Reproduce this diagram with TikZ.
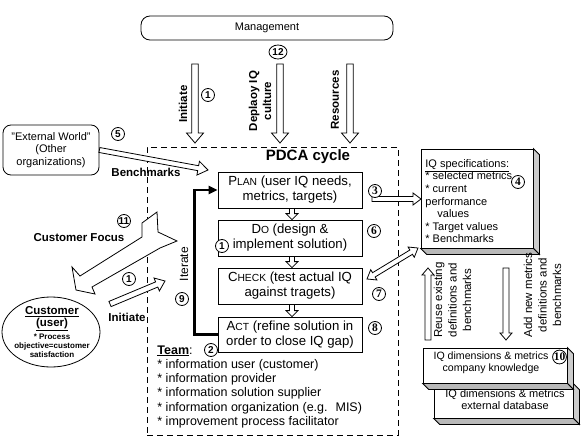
\documentclass[tikz,border=0pt]{standalone}
\usepackage{fontspec}
\setmainfont{Liberation Sans}
\newfontfamily\serifnum{Liberation Serif}
\usetikzlibrary{calc,shapes.geometric,arrows.meta}
\newcommand\kapit[1]{{\fontsize{10.3}{10}\selectfont #1}}
% hollow block arrow: tail, tip, shaft half width, head half width, head length
\newcommand\blockarrow[5]{%
 \filldraw[arrowbody] ($(#1)!#3!90:(#2)$)
  -- ($(#2)!#5!(#1)!#3!90:(#2)$)
  -- ($(#2)!#5!(#1)!#4!90:(#2)$)
  -- (#2)
  -- ($(#2)!#5!(#1)!#4!-90:(#2)$)
  -- ($(#2)!#5!(#1)!#3!-90:(#2)$)
  -- ($(#1)!#3!-90:(#2)$) -- cycle;}
\newcommand\dblockarrow[5]{%
 \filldraw[arrowbody] (#1)
  -- ($(#1)!#5!(#2)!#4!90:(#2)$)
  -- ($(#1)!#5!(#2)!#3!90:(#2)$)
  -- ($(#2)!#5!(#1)!#3!90:(#2)$)
  -- ($(#2)!#5!(#1)!#4!90:(#2)$)
  -- (#2)
  -- ($(#2)!#5!(#1)!#4!-90:(#2)$)
  -- ($(#2)!#5!(#1)!#3!-90:(#2)$)
  -- ($(#1)!#5!(#2)!#3!-90:(#2)$)
  -- ($(#1)!#5!(#2)!#4!-90:(#2)$) -- cycle;}
\newcommand\boxshade[1]{%
 \filldraw[fill=gray!40] (#1.north east) -- ++(6,6) -- ($(#1.south east)+(6,6)$) -- (#1.south east) -- cycle;
 \filldraw[fill=gray!55] (#1.south west) -- (#1.south east) -- ($(#1.south east)+(6,6)$) -- ($(#1.south west)+(6,6)$) -- cycle;}
\tikzset{
 every node/.style={font=\fontsize{11}{12.5}\selectfont, inner sep=0pt},
 num/.style={circle, draw, fill=white, minimum size=13pt, inner sep=0pt, font=\fontsize{10}{10}\selectfont\bfseries},
 snum/.style={num, font=\serifnum\fontsize{11.5}{11}\selectfont\bfseries},
 pdcabox/.style={draw, fill=white, minimum width=144pt, minimum height=36pt, align=center, font=\fontsize{13.2}{15}\selectfont},
 arrowbody/.style={draw=black, fill=white},
 blabel/.style={font=\fontsize{11.5}{14}\selectfont\bfseries},
 rlabel/.style={font=\fontsize{11.5}{14.5}\selectfont},
 box3d/.style={draw, fill=white},
}
\begin{document}
\begin{tikzpicture}[x=1pt,y=-1pt,line width=0.8pt]
\useasboundingbox (0,0) rectangle (584,439);
\fill[white] (0,0) rectangle (584,439);

% Management
\node[draw, rounded corners=9pt, minimum width=252pt, minimum height=24pt] (mgmt) at (267,28) {Management};

% top arrows
\coordinate (ia) at (195,64); \coordinate (ib) at (195,143);
\coordinate (da) at (280,64); \coordinate (db) at (280,143);
\coordinate (ra) at (350,64); \coordinate (rb) at (350,143);
\blockarrow{ia}{ib}{3.3pt}{8.5pt}{10pt}
\blockarrow{da}{db}{3.3pt}{8.5pt}{10pt}
\blockarrow{ra}{rb}{3.3pt}{8.5pt}{10pt}
\node[blabel, rotate=90] (lini) at (183,104) {Initiate};
\node[blabel, rotate=90, align=center] (ldep) at (260,101) {Deplaoy IQ\\culture};
\node[blabel, rotate=90] (lres) at (335,100) {Resources};

% PDCA frame
\node[draw, dash pattern=on 6pt off 4pt, minimum width=251pt, minimum height=288pt] (pdca) at (272.5,291) {};
\node[font=\fontsize{15}{15}\selectfont\bfseries] (ptitle) at (308,157) {PDCA cycle};

\node[pdcabox] (plan) at (290,190) {P\kapit{LAN} (user IQ needs,\\metrics, targets)};
\node[pdcabox] (do) at (290,238) {D\kapit{O} (design \&\\implement solution)};
\node[pdcabox] (check) at (290,286) {C\kapit{HECK} (test actual IQ\\against tragets)};
\node[pdcabox, minimum height=35pt] (act) at (290,334.5) {A\kapit{CT} (refine solution in\\order to close IQ gap)};

\coordinate (p1) at ($(plan.south)+(2,0)$); \coordinate (p2) at ($(do.north)+(2,0)$);
\coordinate (p3) at ($(do.south)+(2,0)$); \coordinate (p4) at ($(check.north)+(2,0)$);
\coordinate (p5) at ($(check.south)+(2,0)$); \coordinate (p6) at ($(act.north)+(2,0)$);
\blockarrow{p1}{p2}{2.5pt}{6pt}{6pt}
\blockarrow{p3}{p4}{2.5pt}{6pt}{6pt}
\blockarrow{p5}{p6}{2.5pt}{6pt}{6pt}

% Iterate
\draw[line width=2.5pt, -{Triangle[length=9pt,width=8pt]}] (act.west) -- ++(-23,0) |- (plan.west);
\node[rotate=90, font=\fontsize{12}{12}\selectfont] (liter) at (184,264) {Iterate};

% External world
\node[draw, rounded corners=8pt, minimum width=96pt, minimum height=50pt, align=center] (ext) at (51,150) {"External World"\\(Other\\organizations)};
\coordinate (bmh) at (208,170);
\blockarrow{ext.east}{bmh}{2.5pt}{7pt}{10pt}
\node[blabel] (lbm) at (146,172) {Benchmarks};

% Customer focus
\filldraw[arrowbody] (142,237) -- (142,223) -- (157,212) -- (158,232) -- (177,241) -- (160,248)
  -- (92,287) -- (95,294) -- (76,290) -- (72,267) -- (80,276) -- cycle;
\node[blabel] (lcf) at (79,238) {Customer Focus};

% Customer
\node[draw, ellipse, minimum width=98pt, minimum height=70pt] (cust) at (51,332) {};
\node[align=center, font=\fontsize{11.5}{12}\selectfont\bfseries] (custname) at (52,319) {\underline{Customer}\\\underline{(user)}};
\node[align=center, font=\fontsize{8}{9}\selectfont\bfseries] (custobj) at (52,346) {* Process\\objective=customer\\satisfaction};
\coordinate (cit) at (110,304); \coordinate (cih) at (165,281);
\blockarrow{cit}{cih}{2.8pt}{7pt}{9pt}
\node[blabel] (lci) at (127,317) {Initiate};

% Team
\node[anchor=north west, align=left, font=\fontsize{12.5}{14.3}\selectfont] (team) at (157,345) {\underline{\textbf{Team}}:\\* information user (customer)\\* information provider\\* information solution supplier\\* information organization (e.g.\hspace{8pt}MIS)\\* improvement process facilitator};

% IQ specifications
\node[box3d, minimum width=112pt, minimum height=99pt] (spec) at (477,198.5) {};
\boxshade{spec}
\node[anchor=north west, align=left, font=\fontsize{11}{12.6}\selectfont] (spectxt) at (425,159) {\underline{IQ specifications:}\\* selected metrics\\* current\\performance\\\hspace*{12pt}values\\* Target values\\* Benchmarks};

\coordinate (a3t) at (372,199); \coordinate (a3h) at (421,199);
\blockarrow{a3t}{a3h}{2.5pt}{6pt}{8pt}
\coordinate (a7a) at (367,279); \coordinate (a7b) at (418,248);
\dblockarrow{a7a}{a7b}{2.5pt}{6pt}{8pt}

% vertical arrows
\coordinate (ua) at (428,340); \coordinate (ub) at (428,268);
\coordinate (na) at (506,268); \coordinate (nb) at (506,340);
\blockarrow{ua}{ub}{3pt}{6pt}{7pt}
\blockarrow{na}{nb}{3pt}{6pt}{7pt}
\node[rlabel, rotate=90, align=center] (lreuse) at (452.5,300) {Reuse existing\\definitions and\\benchmarks};
\node[rlabel, rotate=90, align=center] (ladd) at (542.5,295) {Add new metrics\\definitions and\\benchmarks};

% knowledge boxes
\node[box3d, minimum width=139pt, minimum height=34pt] (extdb) at (503.5,401) {};
\boxshade{extdb}
\node[align=center] (extdbtxt) at (505,399.5) {IQ dimensions \& metrics\\external database};
\node[box3d, minimum width=144pt, minimum height=35pt] (comp) at (495,365.5) {};
\boxshade{comp}
\node[align=center, font=\fontsize{10.6}{12.2}\selectfont] (comptxt) at (491,363) {IQ dimensions \& metrics\\company knowledge};

% numbered circles
\node[num, ellipse, minimum width=18pt, minimum height=14pt] (n12) at (278,52) {12};
\node[num] (n1a) at (208,95) {1};
\node[num] (n5) at (118,134) {5};
\node[num] (n11) at (124,221) {11};
\node[num] (n1c) at (129,279) {1};
\node[num] (n1b) at (222,246) {1};
\node[num] (n9) at (182,299) {9};
\node[num] (n2) at (211,350) {2};
\node[snum] (n3) at (375,191) {3};
\node[snum] (n6) at (374,231) {6};
\node[snum] (n7) at (379,294) {7};
\node[snum] (n8) at (375,328) {8};
\node[snum] (n4) at (518,182) {4};
\node[snum] (n10) at (559.5,357) {10};
\end{tikzpicture}
\end{document}
